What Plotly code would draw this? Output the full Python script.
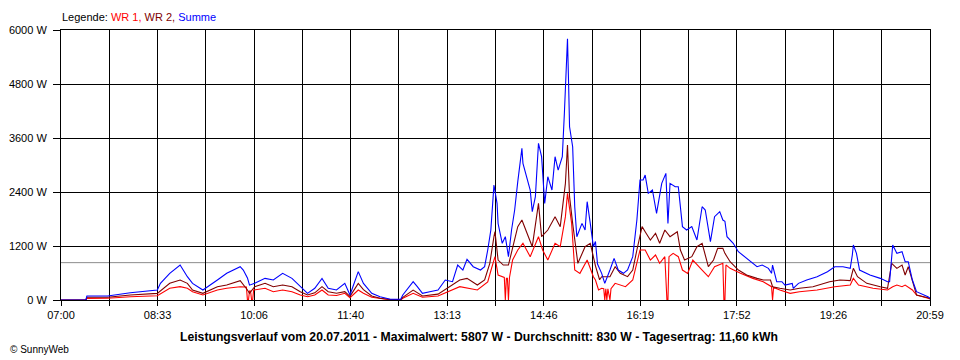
import plotly.graph_objects as go

# ---------------- data ----------------
x_labels = ["07:00", "08:33", "10:06", "11:40", "13:13", "14:46", "16:19", "17:52", "19:26", "20:59"]
y_ticks = [0, 1200, 2400, 3600, 4800, 6000]
average_w = 830

sum_times = ["07:00", "07:24", "07:25", "07:45", "08:07", "08:33", "08:36", "08:45", "08:55", "09:02",
             "09:07", "09:17", "09:31", "09:40", "09:53", "09:56", "10:00", "10:02", "10:07", "10:17",
             "10:25", "10:34", "10:43", "10:51", "10:58", "11:05", "11:12", "11:18", "11:26", "11:34",
             "11:39", "11:47", "11:52", "12:00", "12:08", "12:18", "12:28", "12:30", "12:40", "12:44",
             "12:49", "12:56", "13:04", "13:11", "13:18", "13:23", "13:28", "13:32", "13:38", "13:45",
             "13:49", "13:52", "13:55", "13:58", "14:01", "14:02", "14:06", "14:09", "14:12", "14:15",
             "14:18", "14:21", "14:25", "14:26", "14:30", "14:33", "14:35", "14:38", "14:41", "14:44",
             "14:47", "14:50", "14:54", "14:57", "15:00", "15:04", "15:06", "15:09", "15:10", "15:11",
             "15:14", "15:16", "15:18", "15:23", "15:26", "15:28", "15:31", "15:34", "15:36", "15:38",
             "15:42", "15:45", "15:50", "15:54", "15:58", "16:03", "16:07", "16:12", "16:16", "16:19",
             "16:22", "16:24", "16:27", "16:31", "16:35", "16:40", "16:44", "16:46", "16:48", "16:53",
             "16:56", "17:00", "17:04", "17:09", "17:14", "17:19", "17:22", "17:27", "17:31", "17:36",
             "17:39", "17:41", "17:43", "17:49", "17:54", "18:00", "18:05", "18:12", "18:17", "18:23",
             "18:26", "18:27", "18:31", "18:36", "18:39", "18:46", "18:47", "18:52", "19:00", "19:10",
             "19:20", "19:27", "19:35", "19:42", "19:44", "19:45", "19:48", "19:51", "20:01", "20:11",
             "20:18", "20:20", "20:23", "20:27", "20:32", "20:35", "20:38", "20:42", "20:46", "20:52",
             "20:57", "20:59"]
sum_watts = [0, 0, 90, 90, 160, 222, 370, 593, 778, 518,
             370, 222, 444, 593, 740, 666, 490, 330, 370, 481,
             444, 593, 481, 296, 148, 260, 481, 260, 222, 370,
             111, 630, 370, 148, 74, 16, 16, 111, 407, 296,
             148, 185, 222, 444, 407, 778, 666, 904, 740, 666,
             740, 1111, 1555, 2555, 2148, 1700, 1260, 1407, 963, 1555,
             2000, 2630, 3370, 3037, 2666, 2444, 1963, 2296, 3482, 3185,
             2148, 2740, 2444, 3185, 2888, 3185, 4148, 5807, 4888, 3851,
             3407, 2073, 1407, 1703, 1555, 2185, 1703, 1185, 1300, 800,
             593, 370, 666, 926, 666, 593, 666, 963, 1777, 2666,
             2666, 2777, 2370, 2444, 1926, 2592, 2814, 1703, 2592, 2518,
             2518, 1630, 1555, 1630, 1333, 2073, 2000, 1296, 1852, 1963,
             1777, 1750, 1407, 1260, 1074, 963, 851, 740, 777, 703,
             593, 777, 407, 407, 333, 370, 260, 370, 444, 518,
             630, 740, 740, 703, 1000, 1222, 1037, 666, 555, 481,
             407, 407, 1222, 1037, 1074, 851, 851, 444, 185, 133,
             74, 40]

wr2_times = ["07:00", "07:24", "07:25", "07:45", "08:07", "08:33", "08:45", "08:55", "09:02", "09:07",
             "09:17", "09:31", "09:40", "09:53", "10:00", "10:02", "10:07", "10:17", "10:25", "10:34",
             "10:43", "10:51", "10:58", "11:05", "11:12", "11:18", "11:26", "11:34", "11:39", "11:47",
             "11:52", "12:00", "12:08", "12:18", "12:28", "12:30", "12:40", "12:49", "13:04", "13:13",
             "13:25", "13:32", "13:42", "13:49", "13:54", "13:58", "13:59", "14:02", "14:07", "14:12",
             "14:16", "14:21", "14:25", "14:30", "14:35", "14:41", "14:44", "14:50", "14:57", "15:02",
             "15:07", "15:09", "15:11", "15:14", "15:17", "15:19", "15:26", "15:31", "15:36", "15:40",
             "15:42", "15:50", "15:55", "16:00", "16:07", "16:12", "16:16", "16:21", "16:24", "16:29",
             "16:34", "16:38", "16:43", "16:48", "16:55", "16:58", "17:02", "17:09", "17:14", "17:19",
             "17:25", "17:30", "17:34", "17:39", "17:41", "17:46", "17:54", "18:02", "18:12", "18:18",
             "18:25", "18:27", "18:34", "18:44", "18:53", "19:06", "19:22", "19:32", "19:42", "19:45",
             "19:49", "19:58", "20:11", "20:18", "20:22", "20:27", "20:32", "20:35", "20:38", "20:42",
             "20:46", "20:57", "20:59"]
wr2_watts = [0, 0, 60, 60, 110, 148, 370, 444, 370, 222,
             148, 296, 333, 430, 222, 150, 296, 370, 296, 333,
             296, 185, 111, 160, 296, 185, 150, 185, 80, 370,
             230, 90, 40, 10, 10, 60, 220, 90, 130, 260,
             444, 481, 333, 444, 815, 1407, 1518, 888, 777, 777,
             1185, 1630, 1777, 1481, 1185, 2148, 1407, 1555, 1852, 1630,
             2592, 3444, 2296, 1703, 1111, 815, 1185, 1260, 760, 450,
             518, 518, 740, 593, 518, 666, 1111, 1630, 1518, 1333,
             1481, 1260, 1555, 1407, 1518, 1111, 888, 963, 1185, 1260,
             740, 888, 1148, 1148, 1037, 851, 666, 555, 481, 444,
             444, 296, 260, 222, 260, 296, 407, 444, 430, 703,
             518, 370, 296, 260, 815, 703, 777, 555, 740, 407,
             111, 52, 30]

wr1_times = ["07:00", "07:24", "07:25", "07:45", "08:07", "08:33", "08:45", "08:55", "09:02", "09:07",
             "09:17", "09:31", "09:40", "09:53", "09:59", "10:00", "10:01", "10:02", "10:03", "10:04",
             "10:05", "10:06", "10:17", "10:25", "10:34", "10:43", "10:51", "10:58", "11:05", "11:12",
             "11:18", "11:26", "11:34", "11:39", "11:47", "11:52", "12:00", "12:08", "12:18", "12:28",
             "12:30", "12:40", "12:49", "13:04", "13:13", "13:25", "13:42", "13:52", "13:55", "13:58",
             "13:59", "14:02", "14:07", "14:08", "14:09", "14:10", "14:11", "14:12", "14:13", "14:16",
             "14:21", "14:26", "14:33", "14:41", "14:45", "14:50", "14:57", "15:02", "15:07", "15:09",
             "15:13", "15:16", "15:21", "15:28", "15:34", "15:36", "15:39", "15:42", "15:44", "15:45",
             "15:46", "15:47", "15:48", "15:50", "15:51", "15:55", "16:05", "16:12", "16:19", "16:24",
             "16:29", "16:34", "16:38", "16:43", "16:45", "16:46", "16:47", "16:51", "16:56", "17:00",
             "17:05", "17:10", "17:19", "17:25", "17:31", "17:39", "17:40", "17:41", "17:42", "17:46",
             "17:56", "18:08", "18:18", "18:25", "18:26", "18:27", "18:28", "18:34", "18:44", "18:53",
             "19:10", "19:27", "19:42", "19:45", "19:50", "20:04", "20:18", "20:23", "20:27", "20:32",
             "20:35", "20:42", "20:46", "20:57", "20:59"]
wr1_watts = [0, 0, 37, 40, 73, 96, 260, 296, 260, 185,
             111, 222, 260, 296, 290, 0, 0, 200, 200, 0,
             0, 222, 260, 185, 222, 185, 111, 73, 110, 222,
             111, 100, 148, 50, 222, 150, 60, 30, 5, 5,
             40, 150, 60, 90, 180, 296, 222, 400, 650, 888,
             963, 555, 518, 500, 0, 480, 480, 0, 500, 888,
             1111, 1260, 963, 1407, 1111, 888, 1260, 1185, 1852, 2370,
             1703, 666, 592, 888, 518, 444, 222, 260, 250, 0,
             250, 0, 250, 0, 250, 370, 296, 444, 1111, 1111,
             888, 1000, 815, 963, 0, 0, 963, 1037, 963, 666,
             592, 888, 666, 518, 740, 815, 0, 0, 780, 703,
             593, 481, 407, 296, 296, 0, 280, 222, 148, 185,
             222, 296, 333, 481, 333, 260, 222, 296, 333, 296,
             333, 222, 111, 37, 20]


def to_min(s):
    h, m = s.split(":")
    return int(h) * 60 + int(m)


t_start = to_min(x_labels[0])
t_end = to_min(x_labels[-1])
n_grid = 2 * (len(x_labels) - 1)
x_tickvals = [t_start + k * (t_end - t_start) / n_grid for k in range(n_grid + 1)]
x_ticktext = [x_labels[k // 2] if k % 2 == 0 else "" for k in range(n_grid + 1)]

FONT = "Liberation Sans, Arial, sans-serif"

fig = go.Figure()
fig.add_trace(go.Scatter(x=[to_min(t) for t in wr1_times], y=wr1_watts, mode="lines",
                         line=dict(color="#ff0000", width=1.1), name="WR 1"))
fig.add_trace(go.Scatter(x=[to_min(t) for t in wr2_times], y=wr2_watts, mode="lines",
                         line=dict(color="#800000", width=1.1), name="WR 2"))
fig.add_trace(go.Scatter(x=[to_min(t) for t in sum_times], y=sum_watts, mode="lines",
                         line=dict(color="#0000ff", width=1.1), name="Summe"))

fig.add_shape(type="line", xref="x", yref="y", x0=t_start, x1=t_end, y0=average_w, y1=average_w,
              line=dict(color="#8c8c8c", width=1), layer="below")

# the page body has an 8px margin, so the figure is sized/offset to compensate
fig.update_layout(
    width=952, height=352,
    margin=dict(l=53, r=30, t=22, b=60, autoexpand=False),
    paper_bgcolor="white", plot_bgcolor="white",
    showlegend=False,
    font=dict(family=FONT, size=11, color="black"),
    xaxis=dict(range=[t_start, t_end], tickmode="array", tickvals=x_tickvals, ticktext=x_ticktext,
               showgrid=True, gridcolor="black", gridwidth=1, showline=True, linecolor="black",
               linewidth=1, mirror=True, ticks="outside", ticklen=5, tickcolor="black",
               zeroline=False, automargin=False, tickfont=dict(family=FONT, size=11)),
    yaxis=dict(range=[0, 6000], tickmode="array", tickvals=y_ticks,
               ticktext=[f"{v} W" for v in y_ticks],
               showgrid=True, gridcolor="black", gridwidth=1, showline=True, linecolor="black",
               linewidth=1, mirror=True, ticks="outside", ticklen=7, tickcolor="black",
               zeroline=False, automargin=False, tickfont=dict(family=FONT, size=11),
               ticklabelstandoff=4),
)

fig.add_annotation(
    xref="paper", yref="paper", x=-0.0012, y=1.0, yshift=13, xanchor="left", yanchor="middle",
    showarrow=False, font=dict(family=FONT, size=11, color="black"),
    text='Legende: <span style="color:#ff0000">WR 1,</span> <span style="color:#800000">WR 2,</span> '
         '<span style="color:#0000ff">Summe</span>')
fig.add_annotation(
    xref="paper", yref="paper", x=0.481, y=0, yshift=-37, xanchor="center", yanchor="middle",
    showarrow=False, font=dict(family=FONT, size=12.2, color="black"),
    text="<b>Leistungsverlauf vom 20.07.2011 - Maximalwert: 5807 W - Durchschnitt: 830 W - "
         "Tagesertrag: 11,60 kWh</b>")
fig.add_annotation(
    xref="paper", yref="paper", x=-0.061, y=0, yshift=-49, xanchor="left", yanchor="middle",
    showarrow=False, font=dict(family=FONT, size=10, color="black"),
    text="© SunnyWeb")

fig.write_html("out.html", config={"displayModeBar": False})
